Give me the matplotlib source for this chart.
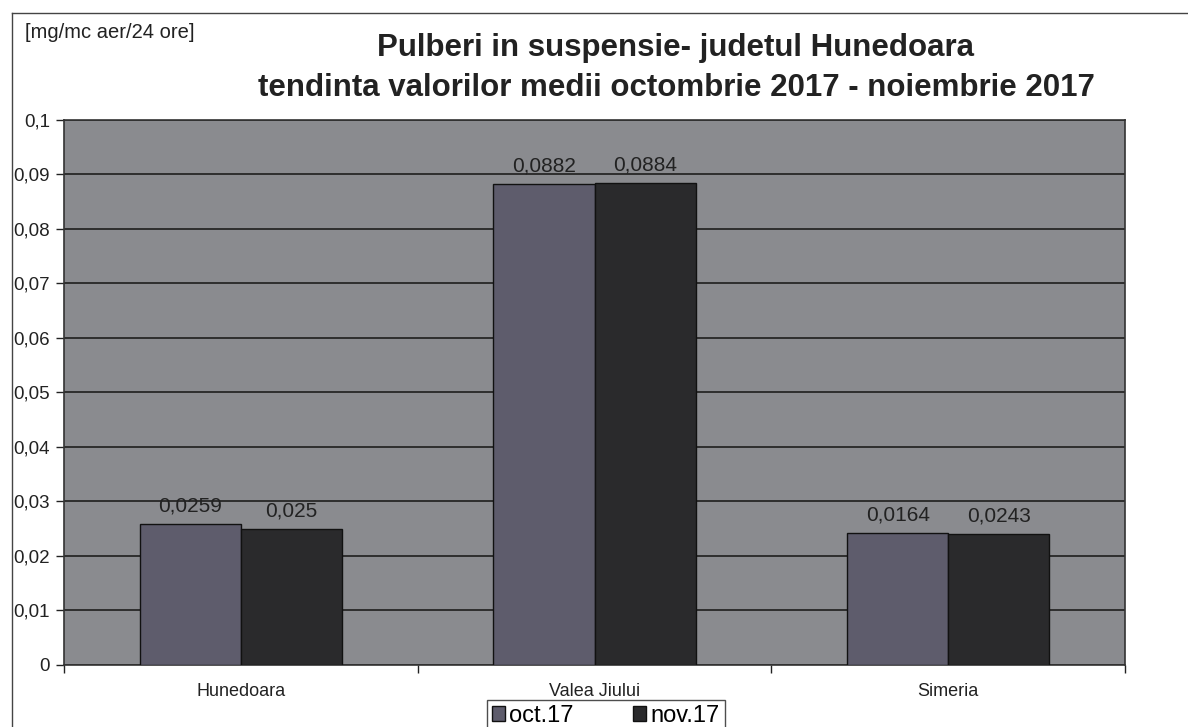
import numpy as np
import matplotlib
matplotlib.use("Agg")
from matplotlib import pyplot as plt
from matplotlib.lines import Line2D
from matplotlib.ticker import FuncFormatter, FixedLocator

plt.rcParams['font.family'] = ['Liberation Sans', 'DejaVu Sans']

# data
locations = ['Hunedoara', 'Valea Jiului', 'Simeria']
oct_17 = [0.0259, 0.0882, 0.0243]   # Simeria bar drawn at ~0.024 in the source
nov_17 = [0.0250, 0.0884, 0.0240]
oct_labels = ['0,0259', '0,0882', '0,0164']
nov_labels = ['0,025', '0,0884', '0,0243']
series_names = ['oct.17', 'nov.17']
y_ticks = [0, 0.01, 0.02, 0.03, 0.04, 0.05, 0.06, 0.07, 0.08, 0.09, 0.1]

fig = plt.figure(figsize=(11.88, 7.27), dpi=100)
fig.patch.set_facecolor('white')
ax = fig.add_axes([0.0539, 0.0853, 0.8932, 0.7497])
ax.set_facecolor('#8a8b8f')

x = np.arange(len(locations))
w = 0.286
b1 = ax.bar(x - w / 2, oct_17, w, color='#5e5c6c', edgecolor='#111111', linewidth=1.0, zorder=3, label=series_names[0])
b2 = ax.bar(x + w / 2, nov_17, w, color='#2a2a2c', edgecolor='#111111', linewidth=1.0, zorder=3, label=series_names[1])

for bars, labels in ((b1, oct_labels), (b2, nov_labels)):
    for rect, txt in zip(bars, labels):
        ax.annotate(txt, (rect.get_x() + rect.get_width() / 2, rect.get_height()),
                    xytext=(0, 6), textcoords='offset points', ha='center', va='bottom',
                    fontsize=15, color='#222222', zorder=4)

ax.set_xlim(-0.5, len(locations) - 0.5)
ax.set_ylim(0, 0.1)
ax.yaxis.set_major_locator(FixedLocator(y_ticks))
ax.yaxis.set_major_formatter(FuncFormatter(lambda v, p: ('%g' % round(v, 4)).replace('.', ',')))
ax.yaxis.grid(True, color='#1e1e1e', linewidth=1.2, zorder=1)
ax.tick_params(axis='y', direction='out', length=6, width=1, labelsize=13.5, colors='#222222', pad=4)

# category ticks sit between groups, labels at group centers
ax.set_xticks(np.arange(len(locations) + 1) - 0.5)
ax.set_xticklabels([])
ax.set_xticks(x, minor=True)
ax.set_xticklabels(locations, minor=True)
ax.tick_params(axis='x', which='major', direction='out', length=6, width=1, colors='#222222')
ax.tick_params(axis='x', which='minor', length=0, labelsize=13, pad=13, labelcolor='#222222')

for s in ax.spines.values():
    s.set_color('#333333')
    s.set_linewidth(1.2)

fig.text(0.021, 0.955, '[mg/mc aer/24 ore]', fontsize=14.5, color='#222222', va='center')
fig.text(0.569, 0.934, 'Pulberi in suspensie- judetul Hunedoara', fontsize=22.5,
         fontweight='bold', ha='center', va='center', color='#222222')
fig.text(0.569, 0.879, 'tendinta valorilor medii octombrie 2017 - noiembrie 2017', fontsize=22.5,
         fontweight='bold', ha='center', va='center', color='#222222')

leg = fig.legend(handles=[b1, b2], loc='upper center', bbox_to_anchor=(0.510, 0.037), ncol=2,
                 fontsize=17, frameon=True, fancybox=False, edgecolor='#222222',
                 handlelength=0.55, handleheight=0.55, handletextpad=0.2, columnspacing=2.5,
                 borderpad=0.2, borderaxespad=0)
leg.get_frame().set_linewidth(1.0)

# outer chart border (top and left visible in the scan)
fig.add_artist(Line2D([0.0101, 1.0], [0.982, 0.982], color='#444444', linewidth=1.0))
fig.add_artist(Line2D([0.0101, 0.0101], [0.0, 0.982], color='#444444', linewidth=1.0))

fig.savefig('out.png', dpi=100)
